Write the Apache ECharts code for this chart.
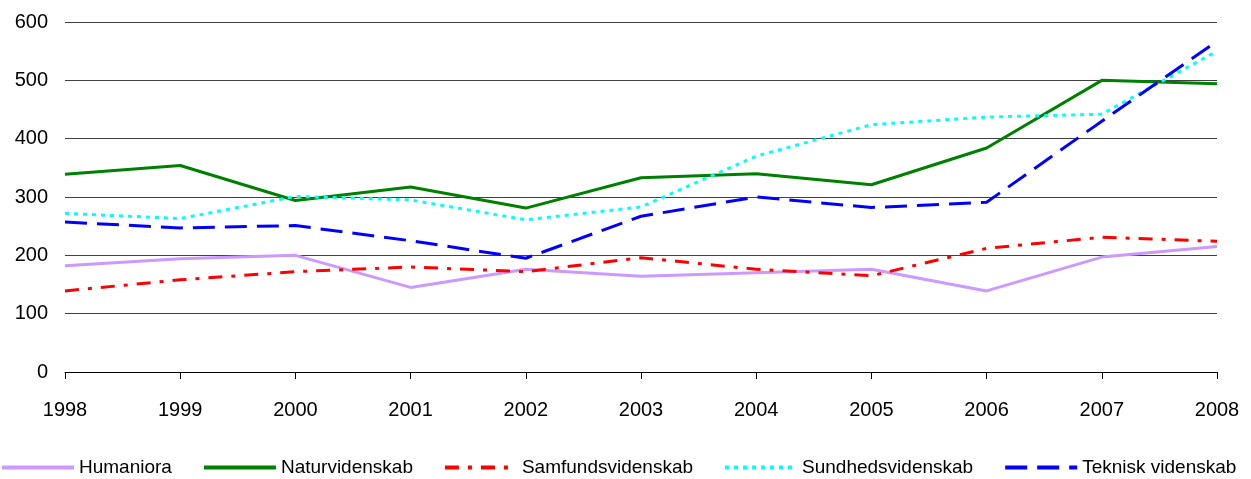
<!DOCTYPE html>
<html>
<head>
<meta charset="utf-8">
<script src="https://cdn.jsdelivr.net/npm/echarts@6/dist/echarts.min.js"></script>
<style>
  html, body { margin: 0; padding: 0; background: #fff; }
  #chart { width: 1251px; height: 479px; }
</style>
</head>
<body>
<div id="chart"></div>
<script>
// data
var years = ['1998', '1999', '2000', '2001', '2002', '2003', '2004', '2005', '2006', '2007', '2008'];
var humaniora = [182, 194, 200, 145, 176, 164, 170, 176, 139, 197, 215];
var naturvidenskab = [339, 354, 294, 317, 281, 333, 340, 321, 384, 500, 494];
var samfundsvidenskab = [139, 158, 172, 180, 172, 196, 176, 165, 212, 231, 224];
var sundhedsvidenskab = [272, 263, 301, 295, 261, 283, 370, 424, 437, 442, 550];
var tekniskVidenskab = [257, 247, 251, 225, 195, 267, 300, 282, 291, 430, 567];
var yTicks = [0, 100, 200, 300, 400, 500, 600];

var font = 'Liberation Sans';

function line(name, data, color, type) {
  return {
    name: name,
    type: 'line',
    data: data,
    symbol: 'none',
    lineStyle: { color: color, width: 3, type: type },
    itemStyle: { color: color }
  };
}

var myChart = echarts.init(document.getElementById('chart'));
myChart.setOption({
  animation: false,
  backgroundColor: '#fff',
  grid: { left: 65, right: 34, top: 22, bottom: 107 },
  legend: {
    top: 458,
    left: 0,
    padding: 0,
    itemWidth: 72,
    itemHeight: 10,
    itemGap: 30,
    itemStyle: { opacity: 0 },
    lineStyle: { width: 4 },
    textStyle: { fontFamily: font, fontSize: 19, color: '#000' },
    data: ['Humaniora', 'Naturvidenskab', 'Samfundsvidenskab', 'Sundhedsvidenskab', 'Teknisk videnskab']
  },
  xAxis: {
    type: 'category',
    data: years,
    boundaryGap: false,
    axisLine: { lineStyle: { color: '#000', width: 1 } },
    axisTick: { show: true, length: 7, lineStyle: { color: '#000' } },
    axisLabel: { fontFamily: font, fontSize: 20, color: '#000', margin: 28 }
  },
  yAxis: {
    type: 'value',
    min: yTicks[0],
    max: yTicks[yTicks.length - 1],
    interval: 100,
    axisLine: { show: false },
    axisTick: { show: false },
    splitLine: { lineStyle: { color: '#404040', width: 1 } },
    axisLabel: { fontFamily: font, fontSize: 20, color: '#000', margin: 17 }
  },
  series: [
    line('Humaniora', humaniora, '#cc99ff', 'solid'),
    line('Naturvidenskab', naturvidenskab, '#008000', 'solid'),
    line('Samfundsvidenskab', samfundsvidenskab, '#ff0000', [14, 9, 4, 9]),
    line('Sundhedsvidenskab', sundhedsvidenskab, '#00ffff', [4, 5]),
    line('Teknisk videnskab', tekniskVidenskab, '#0000ff', [22, 10])
  ]
});
</script>
</body>
</html>
